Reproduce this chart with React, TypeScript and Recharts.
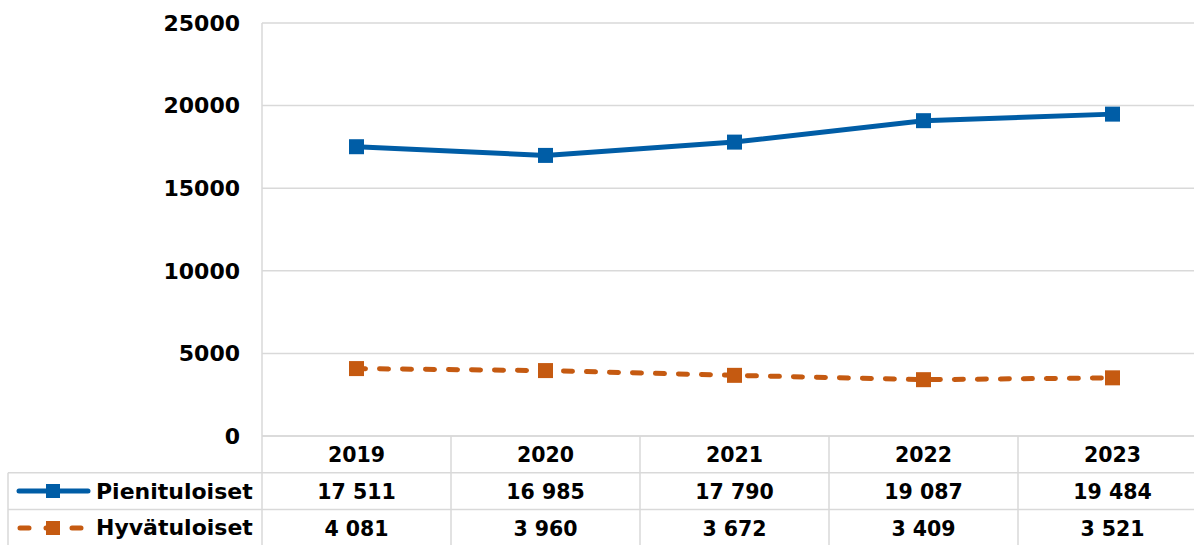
import { LineChart, Line, XAxis, YAxis, CartesianGrid, Legend } from "recharts";

const years = ["2019", "2020", "2021", "2022", "2023"];
const pienituloiset = [17511, 16985, 17790, 19087, 19484];
const hyvatuloiset = [4081, 3960, 3672, 3409, 3521];
const yTicks = [0, 5000, 10000, 15000, 20000, 25000];

const BLUE = "#005DA6";
const ORANGE = "#C55A11";
const GRID = "#d9d9d9";
const FONT = "'DejaVu Sans', sans-serif";

const W = 1207;
const H = 545;
const AXIS_W = 262;
const TABLE_H = 109;
const ROW_H = 36.8;
const COL_W = (W - AXIS_W) / years.length;
const SERIES_ORDER = ["pieni", "hyva"];

const data = years.map((year, i) => ({
  year,
  pieni: pienituloiset[i],
  hyva: hyvatuloiset[i],
}));

const fmt = (v: number) => v.toLocaleString("fi-FI").replace(/\s/g, " ");

function SquareDot(color: string, size: number) {
  return (props: any) => {
    const { cx, cy, index } = props;
    if (cx == null || cy == null) return null;
    return (
      <rect key={index} x={cx - size / 2} y={cy - size / 2} width={size} height={size} fill={color} />
    );
  };
}

function TableTick(props: any) {
  const { x, y, payload, index } = props;
  const row = data[index];
  const left = x - COL_W / 2;
  const right = x + COL_W / 2;
  const text = { fontFamily: FONT, fontWeight: 700, fontSize: 20.5, fill: "#000", textAnchor: "middle" as const };
  return (
    <g>
      {index === 0 && (
        <>
          <line x1={left} y1={y - 413} x2={left} y2={y + TABLE_H} stroke={GRID} strokeWidth={1.5} />
          <line x1={8} y1={y + ROW_H} x2={left} y2={y + ROW_H} stroke={GRID} strokeWidth={1.5} />
          <line x1={8} y1={y + ROW_H * 2} x2={left} y2={y + ROW_H * 2} stroke={GRID} strokeWidth={1.5} />
          <line x1={8} y1={y + ROW_H} x2={8} y2={y + TABLE_H} stroke={GRID} strokeWidth={1.5} />
        </>
      )}
      <line x1={left} y1={y} x2={right} y2={y} stroke={GRID} strokeWidth={1.5} />
      <line x1={left} y1={y + ROW_H} x2={right} y2={y + ROW_H} stroke={GRID} strokeWidth={1.5} />
      <line x1={left} y1={y + ROW_H * 2} x2={right} y2={y + ROW_H * 2} stroke={GRID} strokeWidth={1.5} />
      <line x1={right} y1={y} x2={right} y2={y + TABLE_H} stroke={GRID} strokeWidth={1.5} />
      <text {...text} x={x} y={y + ROW_H / 2 + 8}>{payload.value}</text>
      <text {...text} x={x} y={y + ROW_H * 1.5 + 8}>{fmt(row.pieni)}</text>
      <text {...text} x={x} y={y + ROW_H * 2.5 + 8}>{fmt(row.hyva)}</text>
    </g>
  );
}

function TableLegend(props: any) {
  const items = [...(props.payload || [])].sort(
    (a: any, b: any) => SERIES_ORDER.indexOf(a.dataKey) - SERIES_ORDER.indexOf(b.dataKey)
  );
  return (
    <div>
      {items.map((item: any) => {
        const dashed = item.dataKey === "hyva";
        return (
          <div
            key={item.dataKey}
            style={{ height: ROW_H, display: "flex", alignItems: "center", fontFamily: FONT, fontWeight: 700, fontSize: 22, color: "#000" }}
          >
            <svg width={88} height={20} style={{ flex: "none" }}>
              <line
                x1={dashed ? 12 : 11}
                y1={10}
                x2={dashed ? 76 : 80}
                y2={10}
                stroke={item.color}
                strokeWidth={5}
                strokeLinecap="round"
                strokeDasharray={dashed ? "9 17" : undefined}
              />
              <rect x={38} y={3} width={14} height={14} fill={item.color} />
            </svg>
            <span>{item.value}</span>
          </div>
        );
      })}
    </div>
  );
}

export default function App() {
  return (
    <div style={{ position: "absolute", left: 0, top: 0, width: 1194, height: H, overflow: "hidden", background: "#fff" }}>
      <LineChart width={W} height={H} data={data} margin={{ top: 23, right: 0, left: 0, bottom: 0 }}>
        <CartesianGrid vertical={false} stroke={GRID} strokeWidth={1.5} />
        <XAxis
          dataKey="year"
          height={TABLE_H}
          axisLine={false}
          tickLine={false}
          tickSize={0}
          tickMargin={0}
          interval={0}
          padding={{ left: COL_W / 2, right: COL_W / 2 }}
          tick={<TableTick />}
        />
        <YAxis
          width={AXIS_W}
          domain={[0, 25000]}
          ticks={yTicks}
          axisLine={false}
          tickLine={false}
          tickSize={0}
          tickMargin={22}
          tick={{ fontFamily: FONT, fontWeight: 700, fontSize: 22, fill: "#000" }}
        />
        <Legend
          layout="horizontal"
          align="center"
          verticalAlign="middle"
          content={<TableLegend />}
          wrapperStyle={{ left: 8, top: 436 + ROW_H, width: AXIS_W - 8, bottom: "auto" }}
        />
        <Line
          name="Pienituloiset"
          dataKey="pieni"
          stroke={BLUE}
          strokeWidth={5}
          dot={SquareDot(BLUE, 15)}
          activeDot={false}
          isAnimationActive={false}
        />
        <Line
          name="Hyvätuloiset"
          dataKey="hyva"
          stroke={ORANGE}
          strokeWidth={5}
          strokeDasharray="9 14"
          strokeLinecap="round"
          dot={SquareDot(ORANGE, 15)}
          activeDot={false}
          isAnimationActive={false}
        />
      </LineChart>
    </div>
  );
}
